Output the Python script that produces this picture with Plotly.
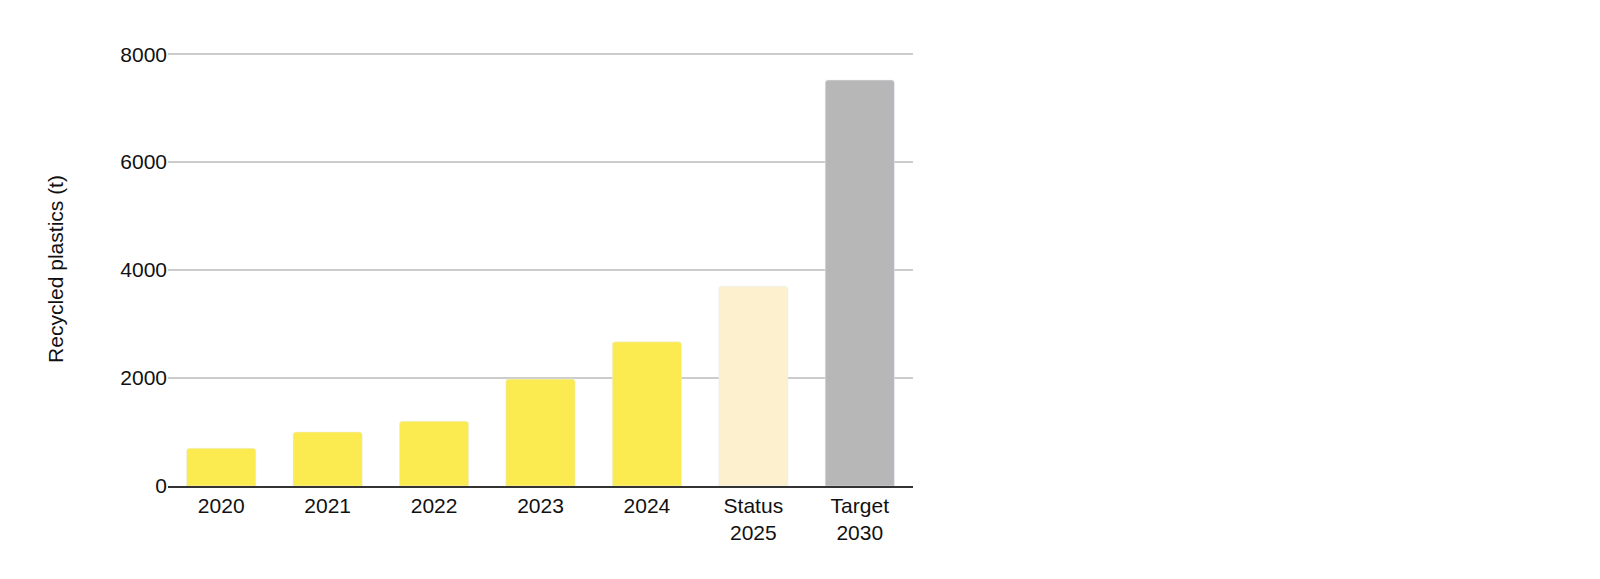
import plotly.graph_objects as go

categories = ["2020", "2021", "2022", "2023", "2024", "Status<br>2025", "Target<br>2030"]
values = [700, 1000, 1200, 1980, 2670, 3700, 7520]
colors = ["#FCEB50"] * 5 + ["#FCF0CF", "#B7B7B7"]

fig = go.Figure(go.Bar(x=categories, y=values, marker=dict(color=colors, cornerradius=3),
                       width=0.65))
fig.update_layout(
    width=1600, height=579,
    margin=dict(l=160, r=695, t=44, b=101),
    paper_bgcolor="white", plot_bgcolor="white",
    font=dict(family="Liberation Sans, Arial", size=21, color="#111"),
    showlegend=False,
    xaxis=dict(showline=True, linecolor="#333", linewidth=1.5, ticks="", tickfont=dict(size=21)),
    yaxis=dict(range=[0, 8040], tickvals=[0, 2000, 4000, 6000, 8000], gridcolor="#CCCCCC",
               gridwidth=1.5, zeroline=False, ticksuffix="   ",
               title=dict(text="Recycled plastics (t)", font=dict(size=21), standoff=50)),
)
fig.write_html("out.html")
